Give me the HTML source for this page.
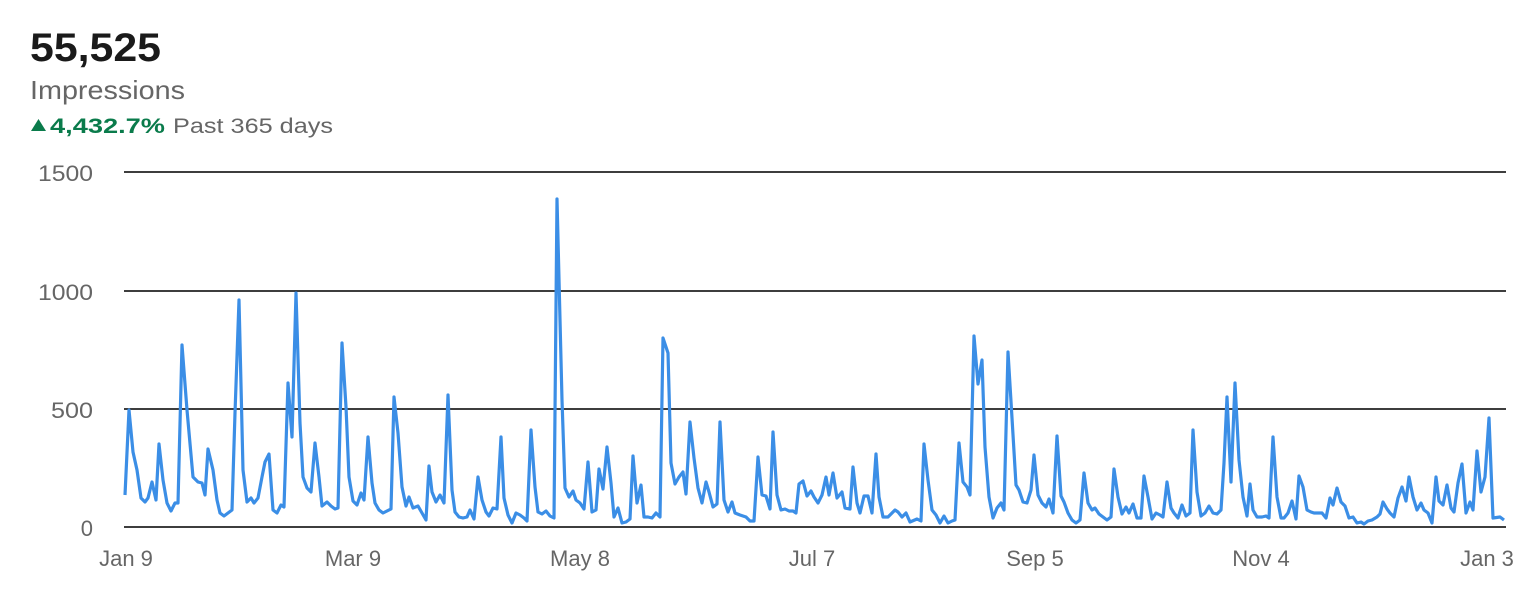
<!DOCTYPE html>
<html><head><meta charset="utf-8"><style>
html,body{margin:0;padding:0;background:#fff;width:1540px;height:598px;overflow:hidden;font-family:"Liberation Sans",Arial,sans-serif}
</style></head><body>
<svg width="1540" height="598" xmlns="http://www.w3.org/2000/svg" style="position:absolute;left:0;top:0">
<text x="30" y="61" font-size="40" font-weight="bold" fill="#1a1a1a" textLength="131" lengthAdjust="spacingAndGlyphs">55,525</text>
<text x="30" y="99" font-size="26" fill="#666" textLength="155" lengthAdjust="spacingAndGlyphs">Impressions</text>
<polygon points="31,131 46,131 38.5,119" fill="#0a7b4b"/>
<text x="50" y="133" font-size="21" font-weight="bold" fill="#0a7b4b" textLength="115" lengthAdjust="spacingAndGlyphs">4,432.7%</text>
<text x="173" y="133" font-size="21" fill="#666" textLength="160" lengthAdjust="spacingAndGlyphs">Past 365 days</text>
<g stroke="#222" stroke-width="1.8">
<line x1="124" y1="172" x2="1506" y2="172"/><line x1="124" y1="291" x2="1506" y2="291"/>
<line x1="124" y1="409" x2="1506" y2="409"/><line x1="124" y1="527" x2="1506" y2="527"/>
</g>
<g font-size="22" fill="#666" text-anchor="end">
<text x="93" y="181" textLength="55" lengthAdjust="spacingAndGlyphs">1500</text><text x="93" y="300" textLength="55" lengthAdjust="spacingAndGlyphs">1000</text><text x="93" y="418" textLength="42" lengthAdjust="spacingAndGlyphs">500</text><text x="93" y="536">0</text>
</g>
<g font-size="22" fill="#666" text-anchor="middle">
<text x="126" y="566">Jan 9</text><text x="353" y="566">Mar 9</text><text x="580" y="566">May 8</text><text x="812" y="566">Jul 7</text><text x="1035" y="566">Sep 5</text><text x="1261" y="566">Nov 4</text><text x="1487" y="566">Jan 3</text>
</g>
<polyline fill="none" stroke="#3b8ee6" stroke-width="3.2" stroke-linejoin="round" points="
125,495 129,410 133,452 137,470 141,498 145,502 148,498 152,482 156,500 159,444 163,480 167,503 171,511 175,503 178,503 182,345 187,410 193,477 198,482 202,483 205,495 208,449 213,470 217,500 220,513 224,516 232,510 235,413 239,300 243,470 247,502 251,498 254,503 258,498 262,477 265,462 269,454 273,510 277,513 281,505 284,507 288,383 292,437 296,293 300,423 303,477 307,488 311,492 315,443 319,477 322,506 327,502 331,506 335,509 338,508 342,343 346,407 349,477 353,501 357,505 361,493 364,500 368,437 372,483 375,503 379,510 383,513 391,509 394,397 398,433 402,487 406,506 409,497 413,508 418,506 422,513 426,520 429,466 432,492 436,502 440,495 444,503 448,395 452,490 455,512 459,517 463,518 467,517
470,510 474,519 478,477 482,500 486,512 489,516 493,508 497,509 501,437 504,498 508,515 512,523 516,513 520,515 524,518 527,521 531,430 535,487 538,512 542,514 546,511 550,516 554,518 557,199 562,400 565,488 569,497 573,491 576,500 580,503 584,509 588,462 592,512 596,510 599,469 603,489 607,447 611,483 614,517 618,508 622,523 626,522 630,519 633,456 637,503 641,485 644,517 648,517 652,518 656,513 660,517 663,338 668,353 671,463 675,484 679,477 683,472 686,494 690,422 694,458 698,488 702,503 706,482 709,492 713,507 717,504 720,422 724,500 728,512 732,502 735,513 740,515 746,517 750,521 754,521 758,457 762,495 766,496 770,509 773,432 777,495 781,510 785,509 789,511 793,511 796,513 799,484 803,481 807,496 811,491 814,497 818,503
822,495 826,477 829,495 833,473 837,498 842,492 845,508 850,509 853,467 857,503 860,513 864,496 868,496 872,513 876,454 879,497 883,517 888,517 895,510 898,512 902,517 906,513 910,522 917,519 921,521 924,444 928,480 932,510 936,515 940,523 944,516 948,523 952,521 955,520 959,443 963,482 967,487 970,495 974,336 978,384 982,360 985,447 989,497 993,518 997,508 1001,503 1004,510 1008,352 1012,418 1016,485 1019,490 1023,502 1027,503 1031,490 1034,455 1038,495 1042,503 1046,507 1049,499 1053,513 1057,436 1061,496 1064,502 1068,513 1072,520 1076,523 1080,520 1084,473 1088,503 1092,510 1095,508 1099,514 1103,517 1107,520 1111,517 1114,469 1118,497 1122,514 1126,507 1129,513 1133,504 1137,518 1141,518 1144,476 1148,497 1152,519 1156,513 1160,515 1163,517 1167,482 1171,508
1174,513 1178,518 1182,505 1186,516 1190,513 1193,430 1197,492 1201,516 1205,513 1209,506 1213,513 1217,514 1221,510 1224,463 1227,397 1231,482 1235,383 1239,460 1243,497 1247,516 1250,484 1253,510 1257,517 1262,517 1266,516 1269,518 1273,437 1277,497 1281,518 1284,518 1288,513 1292,501 1296,519 1299,476 1303,487 1307,510 1311,512 1314,513 1318,513 1322,513 1326,518 1330,498 1333,505 1337,488 1341,502 1345,506 1349,518 1353,517 1357,523 1361,522 1364,524 1368,521 1372,520 1377,517 1380,514 1383,502 1387,509 1390,513 1394,517 1398,498 1402,487 1406,501 1409,477 1413,497 1417,510 1421,503 1424,510 1428,513 1432,523 1436,477 1439,501 1443,505 1447,485 1451,508 1454,512 1458,483 1462,464 1466,513 1470,502 1473,510 1477,451 1481,492 1485,477 1489,418 1493,518 1500,517 1504,520"/>
</svg>
</body></html>
